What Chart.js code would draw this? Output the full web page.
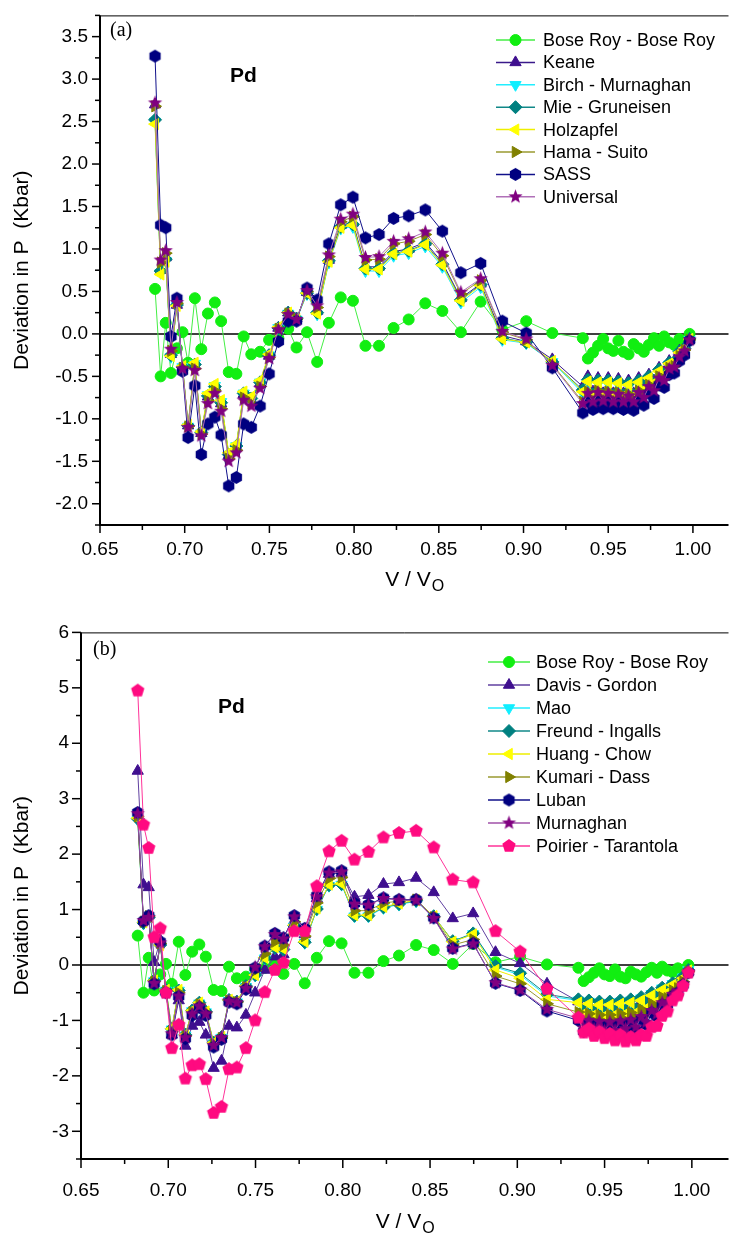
<!DOCTYPE html>
<html lang="en">
<head>
<meta charset="UTF-8">
<title>Pd - Deviation in P</title>
<script src="https://cdn.jsdelivr.net/npm/chart.js"></script>
<style>
    body, html { margin: 0; padding: 0; background: #ffffff; }
    .panel { position: absolute; left: 0; width: 736px; height: 617px; }
    #wrapA { top: 0; }
    #wrapB { top: 617px; }
</style>
</head>
<body>
<div class="panel" id="wrapA"><canvas id="chartA" width="736" height="617"></canvas></div>
<div class="panel" id="wrapB"><canvas id="chartB" width="736" height="617"></canvas></div>
<script>
// V / V0 values, shared by every series in both panels
const vRatio = [0.6825, 0.6858, 0.6888, 0.6919, 0.6954, 0.6987, 0.7020, 0.7060, 0.7098, 0.7137,
    0.7178, 0.7215, 0.7260, 0.7305, 0.7348, 0.7393, 0.7445, 0.7498, 0.7553, 0.7611,
    0.7660, 0.7722, 0.7782, 0.7851, 0.7921, 0.7993, 0.8067, 0.8147, 0.8233, 0.8322,
    0.8420, 0.8521, 0.8630, 0.8747, 0.8875, 0.9016, 0.9170,
    0.935, 0.938, 0.941, 0.944, 0.947, 0.950, 0.953, 0.956, 0.959, 0.962, 0.965,
    0.968, 0.971, 0.974, 0.977, 0.980, 0.983, 0.986, 0.989, 0.992, 0.995, 0.998];

const boseRoy = [0.53, -0.50, 0.13, -0.46, -0.17, 0.02, -0.34, 0.42, -0.18, 0.24,
    0.37, 0.15, -0.45, -0.47, -0.03, -0.24, -0.21, -0.07, -0.05, 0.06,
    -0.16, 0.02, -0.33, 0.13, 0.43, 0.39, -0.14, -0.14, 0.07, 0.17,
    0.36, 0.27, 0.02, 0.38, 0.05, 0.15, 0.01,
    -0.05, -0.29, -0.22, -0.14, -0.06, -0.17, -0.20, -0.08, -0.21, -0.24, -0.12,
    -0.17, -0.21, -0.13, -0.05, -0.14, -0.03, -0.10, -0.13, -0.06, -0.09, 0.00];

// panel (a)
const keane = [2.70, 0.75, 0.90, -0.24, 0.34, -0.39, -1.08, -0.37, -1.17, -0.74,
    -0.62, -0.82, -1.43, -1.33, -0.71, -0.78, -0.58, -0.26, 0.07, 0.25,
    0.18, 0.49, 0.27, 0.87, 1.28, 1.31, 0.79, 0.79, 0.97, 1.00,
    1.08, 0.84, 0.42, 0.59, -0.02, -0.09, -0.30,
    -0.62, -0.50, -0.68, -0.52, -0.70, -0.52, -0.70, -0.53, -0.70, -0.55, -0.70,
    -0.52, -0.62, -0.48, -0.55, -0.40, -0.45, -0.32, -0.32, -0.20, -0.16, -0.06];
const birch = [2.50, 0.72, 0.86, -0.27, 0.33, -0.39, -1.09, -0.35, -1.17, -0.72,
    -0.61, -0.80, -1.42, -1.32, -0.70, -0.76, -0.57, -0.25, 0.07, 0.24,
    0.17, 0.47, 0.23, 0.84, 1.24, 1.26, 0.74, 0.74, 0.92, 0.95,
    1.03, 0.79, 0.37, 0.55, -0.07, -0.11, -0.33,
    -0.70, -0.58, -0.74, -0.59, -0.75, -0.59, -0.75, -0.60, -0.75, -0.62, -0.75,
    -0.59, -0.68, -0.54, -0.60, -0.46, -0.50, -0.36, -0.35, -0.23, -0.18, -0.07];
const mie = [2.52, 0.74, 0.88, -0.25, 0.34, -0.39, -1.08, -0.36, -1.16, -0.73,
    -0.62, -0.81, -1.42, -1.32, -0.70, -0.76, -0.57, -0.25, 0.07, 0.25,
    0.18, 0.48, 0.25, 0.86, 1.26, 1.29, 0.77, 0.77, 0.95, 0.98,
    1.06, 0.82, 0.40, 0.58, -0.05, -0.10, -0.33,
    -0.66, -0.54, -0.71, -0.55, -0.72, -0.55, -0.72, -0.56, -0.72, -0.58, -0.72,
    -0.55, -0.64, -0.50, -0.57, -0.42, -0.47, -0.34, -0.33, -0.21, -0.17, -0.06];
const holzapfel = [2.47, 0.70, 0.85, -0.26, 0.33, -0.38, -1.07, -0.34, -1.15, -0.70,
    -0.59, -0.78, -1.40, -1.30, -0.68, -0.74, -0.55, -0.24, 0.08, 0.25,
    0.18, 0.48, 0.24, 0.85, 1.25, 1.28, 0.76, 0.76, 0.94, 0.97,
    1.05, 0.81, 0.39, 0.57, -0.06, -0.10, -0.32,
    -0.68, -0.56, -0.72, -0.57, -0.73, -0.57, -0.73, -0.58, -0.73, -0.60, -0.73,
    -0.57, -0.66, -0.52, -0.58, -0.44, -0.48, -0.35, -0.34, -0.22, -0.17, -0.06];
const hama = [2.68, 0.84, 0.95, -0.20, 0.36, -0.40, -1.09, -0.41, -1.18, -0.79,
    -0.67, -0.88, -1.47, -1.37, -0.75, -0.82, -0.62, -0.28, 0.06, 0.24,
    0.17, 0.50, 0.31, 0.91, 1.32, 1.38, 0.87, 0.88, 1.06, 1.09,
    1.17, 0.92, 0.47, 0.63, 0.02, -0.07, -0.36,
    -0.80, -0.68, -0.78, -0.67, -0.77, -0.68, -0.78, -0.69, -0.78, -0.71, -0.78,
    -0.67, -0.73, -0.60, -0.65, -0.50, -0.53, -0.40, -0.38, -0.26, -0.19, -0.07];
const sass = [3.27, 1.28, 1.25, -0.03, 0.42, -0.44, -1.22, -0.61, -1.42, -1.06,
    -0.98, -1.19, -1.79, -1.69, -1.06, -1.10, -0.85, -0.47, -0.09, 0.15,
    0.15, 0.54, 0.40, 1.06, 1.52, 1.61, 1.13, 1.17, 1.36, 1.39,
    1.46, 1.21, 0.72, 0.83, 0.15, 0.01, -0.40,
    -0.93, -0.80, -0.89, -0.78, -0.88, -0.79, -0.88, -0.80, -0.89, -0.82, -0.90,
    -0.78, -0.84, -0.70, -0.76, -0.60, -0.63, -0.48, -0.46, -0.32, -0.25, -0.08];
const universal = [2.72, 0.87, 0.98, -0.18, 0.37, -0.41, -1.10, -0.43, -1.20, -0.82,
    -0.70, -0.91, -1.50, -1.40, -0.78, -0.85, -0.64, -0.29, 0.05, 0.23,
    0.17, 0.51, 0.33, 0.93, 1.35, 1.41, 0.90, 0.91, 1.09, 1.12,
    1.20, 0.95, 0.49, 0.65, 0.03, -0.06, -0.37,
    -0.82, -0.70, -0.80, -0.69, -0.79, -0.70, -0.80, -0.71, -0.80, -0.73, -0.80,
    -0.69, -0.75, -0.62, -0.67, -0.52, -0.55, -0.41, -0.39, -0.27, -0.20, -0.07];

// panel (b)
const davis = [3.50, 1.45, 1.40, 0.05, 0.45, -0.47, -1.26, -0.64, -1.46, -1.10,
    -1.03, -1.26, -1.86, -1.73, -1.10, -1.13, -0.90, -0.50, -0.09, 0.15,
    0.19, 0.80, 0.55, 1.20, 1.64, 1.66, 1.23, 1.26, 1.46, 1.49,
    1.57, 1.31, 0.84, 0.93, 0.23, 0.03, -0.34,
    -0.66, -0.90, -0.70, -0.92, -0.72, -0.94, -0.73, -0.93, -0.72, -0.90, -0.70,
    -0.88, -0.66, -0.80, -0.58, -0.68, -0.48, -0.52, -0.38, -0.37, -0.26, -0.11];
const mao = [2.62, 0.75, 0.85, -0.29, 0.35, -0.46, -1.16, -0.46, -1.27, -0.83,
    -0.69, -0.85, -1.41, -1.31, -0.64, -0.67, -0.39, -0.19, 0.12, 0.31,
    0.28, 0.70, 0.40, 1.00, 1.43, 1.45, 0.88, 0.88, 1.03, 1.09,
    1.15, 0.87, 0.42, 0.56, -0.04, -0.18, -0.56,
    -0.64, -0.84, -0.66, -0.86, -0.68, -0.88, -0.68, -0.86, -0.66, -0.84, -0.64,
    -0.82, -0.60, -0.74, -0.52, -0.62, -0.42, -0.47, -0.34, -0.33, -0.22, -0.09];
const freund = [2.64, 0.76, 0.86, -0.28, 0.36, -0.45, -1.15, -0.46, -1.26, -0.82,
    -0.68, -0.84, -1.40, -1.30, -0.63, -0.66, -0.38, -0.18, 0.13, 0.31,
    0.28, 0.71, 0.41, 1.01, 1.44, 1.46, 0.89, 0.89, 1.04, 1.10,
    1.16, 0.88, 0.43, 0.57, -0.02, -0.15, -0.53,
    -0.62, -0.82, -0.64, -0.84, -0.66, -0.86, -0.66, -0.84, -0.64, -0.82, -0.62,
    -0.80, -0.58, -0.72, -0.50, -0.60, -0.41, -0.46, -0.33, -0.32, -0.21, -0.09];
const huang = [2.65, 0.77, 0.87, -0.28, 0.36, -0.45, -1.15, -0.45, -1.26, -0.82,
    -0.68, -0.84, -1.40, -1.30, -0.63, -0.66, -0.38, -0.18, 0.13, 0.32,
    0.29, 0.72, 0.42, 1.02, 1.45, 1.47, 0.90, 0.90, 1.05, 1.11,
    1.17, 0.88, 0.42, 0.55, -0.09, -0.24, -0.62,
    -0.68, -0.88, -0.70, -0.90, -0.72, -0.92, -0.72, -0.90, -0.70, -0.88, -0.68,
    -0.86, -0.64, -0.78, -0.55, -0.66, -0.45, -0.50, -0.36, -0.35, -0.24, -0.10];
const kumari = [2.68, 0.78, 0.88, -0.30, 0.39, -0.47, -1.20, -0.50, -1.28, -0.85,
    -0.71, -0.86, -1.43, -1.32, -0.64, -0.67, -0.40, -0.10, 0.20, 0.42,
    0.36, 0.78, 0.52, 1.12, 1.56, 1.58, 0.98, 0.98, 1.12, 1.15,
    1.18, 0.86, 0.36, 0.46, -0.20, -0.34, -0.70,
    -0.85, -1.00, -0.88, -1.02, -0.90, -1.04, -0.90, -1.02, -0.88, -1.00, -0.86,
    -0.97, -0.80, -0.90, -0.70, -0.78, -0.58, -0.60, -0.46, -0.42, -0.30, -0.12];
const luban = [2.75, 0.79, 0.89, -0.34, 0.42, -0.50, -1.26, -0.57, -1.33, -0.91,
    -0.77, -0.91, -1.48, -1.34, -0.67, -0.70, -0.44, -0.05, 0.34, 0.57,
    0.49, 0.89, 0.66, 1.25, 1.68, 1.70, 1.11, 1.09, 1.21, 1.18,
    1.18, 0.85, 0.30, 0.39, -0.33, -0.46, -0.83,
    -1.00, -1.20, -1.05, -1.22, -1.07, -1.25, -1.08, -1.24, -1.06, -1.21, -1.04,
    -1.18, -0.98, -1.08, -0.86, -0.93, -0.72, -0.72, -0.56, -0.50, -0.36, -0.14];
const murnaghan = [2.73, 0.80, 0.86, -0.33, 0.40, -0.50, -1.24, -0.56, -1.31, -0.88,
    -0.74, -0.88, -1.45, -1.31, -0.65, -0.68, -0.42, -0.04, 0.33, 0.55,
    0.47, 0.87, 0.64, 1.23, 1.66, 1.68, 1.10, 1.08, 1.20, 1.17,
    1.17, 0.84, 0.29, 0.38, -0.32, -0.45, -0.80,
    -0.96, -1.14, -1.00, -1.16, -1.02, -1.19, -1.03, -1.18, -1.01, -1.15, -0.99,
    -1.12, -0.93, -1.03, -0.82, -0.88, -0.68, -0.68, -0.53, -0.47, -0.34, -0.13];
const poirier = [4.95, 2.53, 2.11, 0.50, 0.66, -0.50, -1.50, -1.08, -2.05, -1.81,
    -1.79, -2.06, -2.67, -2.56, -1.88, -1.85, -1.50, -1.00, -0.49, -0.09,
    0.04, 0.61, 0.61, 1.42, 2.05, 2.24, 1.90, 2.04, 2.30, 2.38,
    2.42, 2.12, 1.54, 1.49, 0.61, 0.24, -0.43,
    -0.95, -1.22, -1.15, -1.28, -1.20, -1.32, -1.24, -1.36, -1.26, -1.38, -1.30,
    -1.36, -1.26, -1.28, -1.12, -1.10, -0.92, -0.84, -0.64, -0.55, -0.38, -0.14];

// ticks
const xMajor = [0.65, 0.70, 0.75, 0.80, 0.85, 0.90, 0.95, 1.00];
const xMinor = [0.675, 0.725, 0.775, 0.825, 0.875, 0.925, 0.975];
const yMajorA = [-2.0, -1.5, -1.0, -0.5, 0.0, 0.5, 1.0, 1.5, 2.0, 2.5, 3.0, 3.5];
const yMinorA = [-2.25, -1.75, -1.25, -0.75, -0.25, 0.25, 0.75, 1.25, 1.75, 2.25, 2.75, 3.25, 3.75];
const yMajorB = [-3, -2, -1, 0, 1, 2, 3, 4, 5, 6];
const yMinorB = [-3.5, -2.5, -1.5, -0.5, 0.5, 1.5, 2.5, 3.5, 4.5, 5.5];

const sansFont = "'Liberation Sans', Arial, Helvetica, sans-serif";

// marker shapes that Chart.js doesn't have
function makeMarker(kind, r, color) {
    const s = Math.ceil(r * 2 + 2);
    const c = document.createElement('canvas');
    c.width = s; c.height = s;
    const g = c.getContext('2d');
    g.translate(s / 2, s / 2);
    g.beginPath();
    const n = kind === 'hex' ? 6 : kind === 'pent' ? 5 : 10;
    for (let i = 0; i < n; i++) {
        const ang = -Math.PI / 2 + i * 2 * Math.PI / n;
        const rr = (kind === 'star' && i % 2) ? r * 0.42 : r;
        const px = Math.cos(ang) * rr, py = Math.sin(ang) * rr;
        if (i === 0) g.moveTo(px, py); else g.lineTo(px, py);
    }
    g.closePath();
    g.fillStyle = color;
    g.fill();
    return c;
}

function series(label, ys, o) {
    return {
        label: label,
        data: vRatio.map((x, i) => ({ x: x, y: ys[i] })),
        borderColor: o.line,
        backgroundColor: o.fill,
        pointBackgroundColor: o.fill,
        pointBorderColor: o.fill,
        borderWidth: 1,
        pointBorderWidth: 1,
        pointStyle: o.style,
        pointRadius: o.r,
        pointRotation: o.rot || 0,
        spanGaps: true,
        tension: 0,
        order: o.order
    };
}

const greenDot = { line: '#44ee44', fill: '#11ee11', style: 'circle', r: 5.5 };
const datasetsA = [
    series('Bose Roy - Bose Roy', boseRoy, { ...greenDot, order: 8 }),
    series('Keane', keane, { line: '#3a1a8a', fill: '#3f0f8f', style: 'triangle', r: 6.5, order: 7 }),
    series('Birch - Murnaghan', birch, { line: '#22eeff', fill: '#11eeff', style: 'triangle', rot: 180, r: 6.5, order: 6 }),
    series('Mie - Gruneisen', mie, { line: '#108888', fill: '#008080', style: 'rectRot', r: 6.5, order: 5 }),
    series('Holzapfel', holzapfel, { line: '#eeee00', fill: '#ffff00', style: 'triangle', rot: 270, r: 6.5, order: 4 }),
    series('Hama - Suito', hama, { line: '#9a9a30', fill: '#808000', style: 'triangle', rot: 90, r: 6.5, order: 3 }),
    series('SASS', sass, { line: '#10108a', fill: '#000080', style: makeMarker('hex', 6.5, '#000080'), r: 6, order: 2 }),
    series('Universal', universal, { line: '#b070b8', fill: '#800080', style: makeMarker('star', 7.5, '#800080'), r: 6, order: 1 })
];
const datasetsB = [
    series('Bose Roy - Bose Roy', boseRoy, { ...greenDot, order: 9 }),
    series('Davis - Gordon', davis, { line: '#6040a0', fill: '#3f0f8f', style: 'triangle', r: 6.5, order: 8 }),
    series('Mao', mao, { line: '#22eeff', fill: '#11eeff', style: 'triangle', rot: 180, r: 6.5, order: 7 }),
    series('Freund - Ingalls', freund, { line: '#108888', fill: '#008080', style: 'rectRot', r: 6.5, order: 6 }),
    series('Huang - Chow', huang, { line: '#eeee00', fill: '#ffff00', style: 'triangle', rot: 270, r: 6.5, order: 5 }),
    series('Kumari - Dass', kumari, { line: '#9a9a30', fill: '#808000', style: 'triangle', rot: 90, r: 6.5, order: 4 }),
    series('Luban', luban, { line: '#10108a', fill: '#000080', style: makeMarker('hex', 6.5, '#000080'), r: 6, order: 3 }),
    series('Murnaghan', murnaghan, { line: '#a050a8', fill: '#800080', style: makeMarker('star', 7.5, '#800080'), r: 6, order: 2 }),
    series('Poirier - Tarantola', poirier, { line: '#ff3399', fill: '#ff0a80', style: makeMarker('pent', 7, '#ff0a80'), r: 6, order: 1 })
];

function drawMarker(ctx, ds, x, y) {
    const st = ds.pointStyle;
    if (typeof st === 'object') {
        ctx.drawImage(st, x - st.width / 2, y - st.height / 2);
        return;
    }
    ctx.fillStyle = ds.pointBackgroundColor;
    ctx.strokeStyle = ds.pointBorderColor;
    ctx.lineWidth = 1;
    Chart.helpers.drawPoint(ctx, { pointStyle: st, radius: ds.pointRadius, rotation: ds.pointRotation, borderWidth: 1 }, x, y);
}

// zero line, frame, minor/major ticks, titles and the inside legend
const decor = {
    id: 'decor',
    beforeDatasetsDraw(chart) {
        const { ctx, chartArea: a } = chart;
        const y0 = chart.scales.y.getPixelForValue(0);
        ctx.save();
        ctx.strokeStyle = '#000';
        ctx.lineWidth = 1.5;
        ctx.beginPath(); ctx.moveTo(a.left, y0); ctx.lineTo(a.right, y0); ctx.stroke();
        ctx.restore();
    },
    afterDraw(chart, args, o) {
        const { ctx, chartArea: a, scales: { x, y } } = chart;
        ctx.save();
        ctx.strokeStyle = '#000';
        ctx.lineWidth = 1;
        ctx.beginPath(); ctx.moveTo(a.left, a.top + 0.5); ctx.lineTo(a.right, a.top + 0.5); ctx.stroke();
        ctx.lineWidth = 2;
        ctx.beginPath(); ctx.moveTo(a.left, a.top); ctx.lineTo(a.left, a.bottom); ctx.lineTo(a.right, a.bottom); ctx.stroke();

        ctx.lineWidth = 1.5;
        const xt = (vals, len) => vals.forEach(v => {
            const px = x.getPixelForValue(v);
            ctx.beginPath(); ctx.moveTo(px, a.bottom); ctx.lineTo(px, a.bottom + len); ctx.stroke();
        });
        const yt = (vals, len) => vals.forEach(v => {
            const py = y.getPixelForValue(v);
            ctx.beginPath(); ctx.moveTo(a.left, py); ctx.lineTo(a.left - len, py); ctx.stroke();
        });
        xt(xMajor, o.major); xt(xMinor, o.minor);
        yt(o.yMajor, o.major); yt(o.yMinor, o.minor);

        ctx.fillStyle = '#000';
        // y title
        ctx.save();
        ctx.translate(o.yTitleX, (a.top + a.bottom) / 2);
        ctx.rotate(-Math.PI / 2);
        ctx.font = '21px ' + sansFont;
        ctx.textAlign = 'center';
        ctx.textBaseline = 'middle';
        ctx.fillText('Deviation in P  (Kbar)', 0, 0);
        ctx.restore();

        // x title V / V0
        ctx.font = '21px ' + sansFont;
        const main = 'V / V';
        const w1 = ctx.measureText(main).width;
        ctx.font = '16px ' + sansFont;
        const w2 = ctx.measureText('O').width;
        const cx = (a.left + a.right) / 2 - (w1 + w2) / 2;
        ctx.textAlign = 'left';
        ctx.textBaseline = 'alphabetic';
        ctx.font = '21px ' + sansFont;
        ctx.fillText(main, cx, o.xTitleY);
        ctx.font = '16px ' + sansFont;
        ctx.fillText('O', cx + w1 + 1, o.xTitleY + 5);

        // panel tag and element
        ctx.font = "20px 'Liberation Serif', 'Times New Roman', serif";
        ctx.fillText(o.tag, o.tagX, o.tagY);
        ctx.font = 'bold 21px ' + sansFont;
        ctx.fillText('Pd', o.pdX, o.pdY);

        // legend
        const L = o.legend;
        chart.data.datasets.forEach((ds, i) => {
            const ry = L.y + i * L.dy;
            ctx.strokeStyle = ds.borderColor;
            ctx.lineWidth = 1.5;
            ctx.beginPath(); ctx.moveTo(L.x0, ry); ctx.lineTo(L.x1, ry); ctx.stroke();
            drawMarker(ctx, ds, (L.x0 + L.x1) / 2, ry);
            ctx.fillStyle = '#000';
            ctx.font = '18px ' + sansFont;
            ctx.textAlign = 'left';
            ctx.textBaseline = 'middle';
            ctx.fillText(ds.label, L.tx, ry + 1);
        });
        ctx.restore();
    }
};

function makeChart(id, c) {
    return new Chart(document.getElementById(id), {
        type: 'line',
        data: { datasets: c.datasets },
        options: {
            responsive: false,
            animation: false,
            events: [],
            devicePixelRatio: 1,
            layout: { padding: { top: c.top, right: 0, left: 0, bottom: 0 } },
            plugins: { legend: { display: false }, tooltip: { enabled: false }, decor: c.decor },
            scales: {
                x: {
                    type: 'linear', min: 0.65, max: 1.021,
                    afterBuildTicks: s => { s.ticks = xMajor.map(v => ({ value: v })); },
                    afterFit: s => { s.height = c.xHeight; },
                    grid: { display: false, drawTicks: true, tickLength: 8 },
                    border: { display: false },
                    ticks: { color: '#000', font: { family: sansFont, size: 19 }, padding: c.xPad, maxRotation: 0, autoSkip: false, callback: v => v.toFixed(2) }
                },
                y: {
                    type: 'linear', min: c.yMin, max: c.yMax,
                    afterBuildTicks: s => { s.ticks = c.decor.yMajor.map(v => ({ value: v })); },
                    afterFit: s => { s.width = c.yWidth; },
                    grid: { display: false, drawTicks: true, tickLength: 8 },
                    border: { display: false },
                    ticks: { color: '#000', font: { family: sansFont, size: 19 }, padding: 4, autoSkip: false, callback: c.yFmt }
                }
            }
        },
        plugins: [decor]
    });
}

makeChart('chartA', {
    datasets: datasetsA, top: 10, xHeight: 92, yWidth: 100, yMin: -2.25, yMax: 3.75, xPad: 5,
    yFmt: v => v.toFixed(1),
    decor: {
        yMajor: yMajorA, yMinor: yMinorA, major: 8, minor: 5,
        yTitleX: 22, xTitleY: 586, tag: '(a)', tagX: 110, tagY: 36, pdX: 230, pdY: 82,
        legend: { x0: 496, x1: 535, tx: 543, y: 40, dy: 22.4 }
    }
});

makeChart('chartB', {
    datasets: datasetsB, top: 11, xHeight: 75, yWidth: 81, yMin: -3.5, yMax: 6, xPad: 12,
    yFmt: v => String(v),
    decor: {
        yMajor: yMajorB, yMinor: yMinorB, major: 9, minor: 5,
        yTitleX: 22, xTitleY: 611, tag: '(b)', tagX: 93, tagY: 38, pdX: 218, pdY: 96,
        legend: { x0: 488, x1: 530, tx: 536, y: 45, dy: 23 }
    }
});
</script>
</body>
</html>
